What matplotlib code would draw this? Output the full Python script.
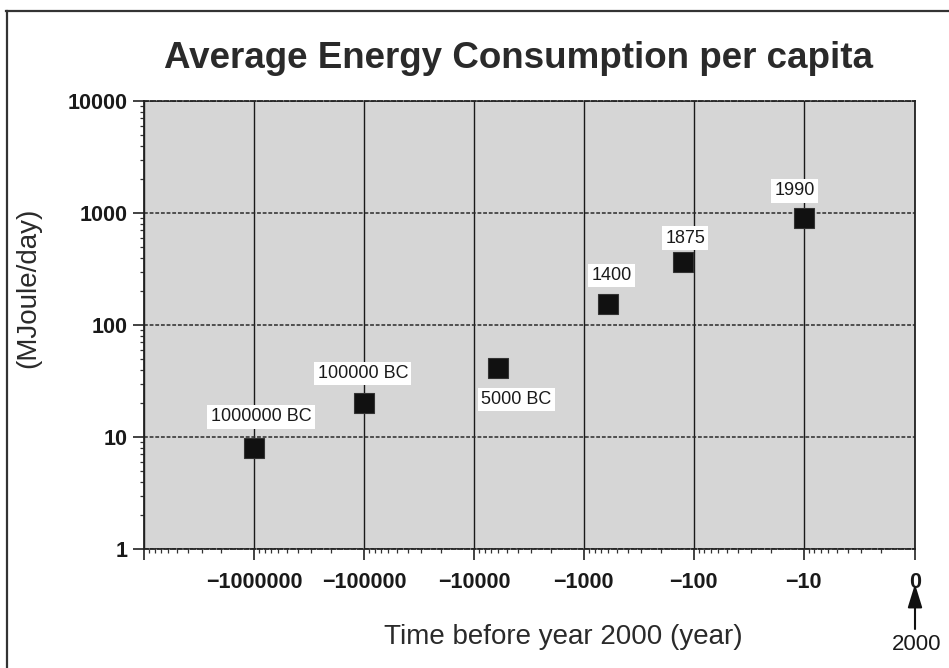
import matplotlib
matplotlib.use("Agg")
import matplotlib.pyplot as plt
from matplotlib.lines import Line2D
from matplotlib.ticker import FixedLocator
import numpy as np

# Years relative to 2000 (negative = before) and energy use per person
years_before_2000 = [-1000000, -100000, -6000, -600, -125, -10]
energy_mj_per_day = [8, 20, 41, 153, 365, 905]
point_labels = ["1000000 BC", "100000 BC", "5000 BC", "1400", "1875", "1990"]
# label offsets (pixels) from each marker
label_dx = [7, -1, 18, 3, 2, -9]
label_dy = [31, 30, -31, 29, 24, 27]

x_tick_values = [-10000000, -1000000, -100000, -10000, -1000, -100, -10, 0]
x_tick_labels = ["", "\u22121000000", "\u2212100000", "\u221210000",
                 "\u22121000", "\u2212100", "\u221210", "0"]
y_tick_values = [1, 10, 100, 1000, 10000]
y_tick_labels = ["1", "10", "100", "1000", "10000"]

plt.rcParams["font.family"] = ["Liberation Sans", "DejaVu Sans"]

W, H = 949, 668
fig = plt.figure(figsize=(W / 100, H / 100), dpi=100)
fig.patch.set_facecolor("white")

ax_l, ax_r, ax_t, ax_b = 144, 915, 101, 549
ax = fig.add_axes([ax_l / W, 1 - ax_b / H, (ax_r - ax_l) / W, (ax_b - ax_t) / H])
ax.set_facecolor("#d6d6d6")

ax.set_xscale("symlog", linthresh=1, linscale=0.01)
ax.set_yscale("log")
ax.set_xlim(-10000000, 0)
ax.set_ylim(1, 10000)

# ticks
ax.xaxis.set_major_locator(FixedLocator(x_tick_values))
ax.set_xticklabels(x_tick_labels)
x_minor = [-m * 10.0 ** k for k in range(0, 7) for m in range(2, 10)]
ax.xaxis.set_minor_locator(FixedLocator(x_minor))
ax.yaxis.set_major_locator(FixedLocator(y_tick_values))
ax.set_yticklabels(y_tick_labels)
y_minor = [m * 10.0 ** k for k in range(0, 4) for m in range(2, 10)]
ax.yaxis.set_minor_locator(FixedLocator(y_minor))

ax.tick_params(axis="both", which="major", direction="out", length=7.7,
               width=1.2, color="#222222", labelsize=15.5, labelcolor="#1a1a1a")
ax.tick_params(axis="x", which="major", pad=9)
ax.tick_params(axis="y", which="major", pad=4.3)
ax.tick_params(axis="both", which="minor", direction="out", length=3,
               width=0.9, color="#333333")
for lab in ax.get_xticklabels() + ax.get_yticklabels():
    lab.set_fontweight("bold")

# grid: solid verticals, fine dashed horizontals
ax.xaxis.grid(True, which="major", color="#1a1a1a", lw=1.0, ls="-")
ax.yaxis.grid(True, which="major", color="#2a2a2a", lw=1.1, ls=(0, (2.5, 1.2)))
ax.set_axisbelow(True)

for side in ("left", "right"):
    ax.spines[side].set_linewidth(1.3)
    ax.spines[side].set_color("#222222")
for side in ("top", "bottom"):
    ax.spines[side].set_linewidth(1.3)
    ax.spines[side].set_color("#222222")
    ax.spines[side].set_linestyle((0, (2.5, 1.2)))

# markers
ax.plot(years_before_2000, energy_mj_per_day, ls="none", marker="s",
        markersize=15, markerfacecolor="#111111", markeredgecolor="#333333",
        markeredgewidth=0.8, zorder=5)

for x, y, txt, dx, dy in zip(years_before_2000, energy_mj_per_day,
                             point_labels, label_dx, label_dy):
    ax.annotate(txt, xy=(x, y), xytext=(dx, dy), textcoords="offset pixels",
                ha="center", va="center", fontsize=13, color="#1a1a1a",
                bbox=dict(boxstyle="square,pad=0.18", fc="white", ec="none"),
                zorder=6)

# titles and axis labels
fig.text(519 / W, 1 - 68 / H, "Average Energy Consumption per capita",
         ha="center", va="baseline", fontsize=26.5, fontweight="bold",
         color="#2a2a2a")
fig.text(563 / W, 1 - 644 / H, "Time before year 2000 (year)",
         ha="center", va="baseline", fontsize=20, color="#2a2a2a")
fig.text(28 / W, 1 - 288 / H, "(MJoule/day)", rotation=90,
         ha="center", va="center", fontsize=20, color="#2a2a2a")

# arrow marking the year 2000 under the zero tick
axis_h = ax_b - ax_t
ax.annotate("", xy=(0, (ax_b - 584) / axis_h), xycoords=("data", "axes fraction"),
            xytext=(0, (ax_b - 629) / axis_h), textcoords=("data", "axes fraction"),
            arrowprops=dict(arrowstyle="-|>,head_length=0.65,head_width=0.2",
                            mutation_scale=22, lw=1.5, color="#111111",
                            shrinkA=0, shrinkB=0),
            annotation_clip=False)
ax.annotate("2000", xy=(0, (ax_b - 644) / axis_h), xycoords=("data", "axes fraction"),
            xytext=(2, 0), textcoords="offset pixels",
            ha="center", va="center", fontsize=16, color="#1a1a1a",
            annotation_clip=False)

# frame lines along the top and left edges
fig.add_artist(Line2D([6 / W, 1], [1 - 11 / H, 1 - 11 / H],
                      transform=fig.transFigure, color="#333333", lw=1.6))
fig.add_artist(Line2D([7 / W, 7 / W], [0, 1 - 11 / H],
                      transform=fig.transFigure, color="#333333", lw=1.6))

fig.savefig("out.png", dpi=100, facecolor="white")
